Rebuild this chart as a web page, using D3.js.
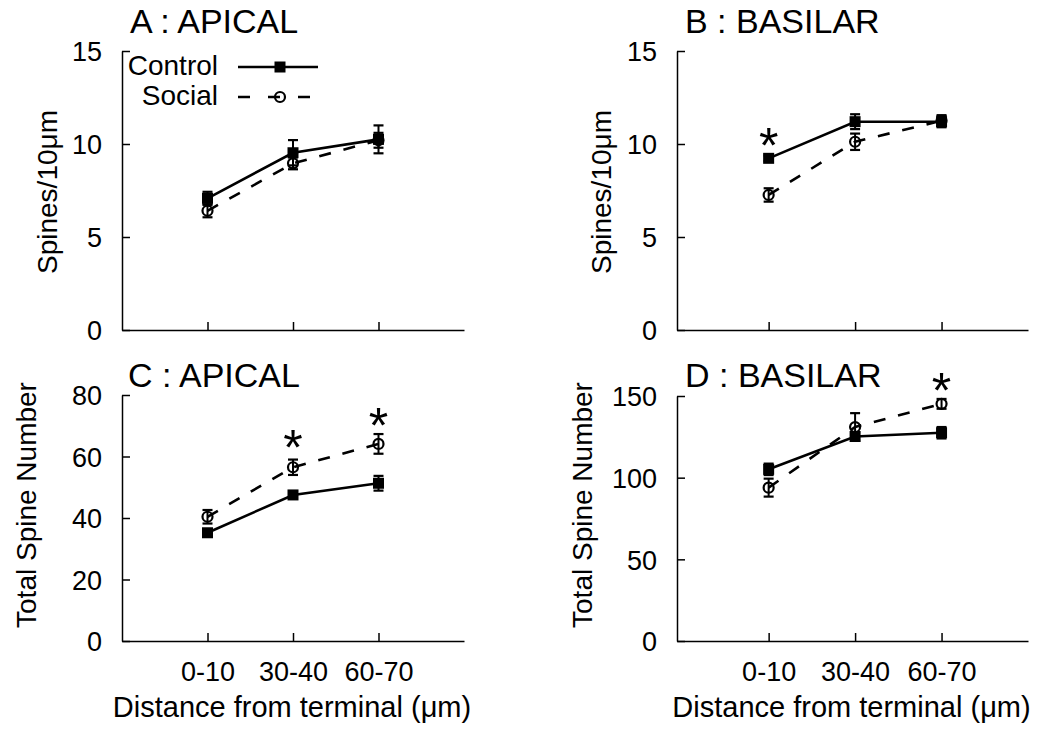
<!DOCTYPE html>
<html>
<head>
<meta charset="utf-8">
<script src="https://cdn.jsdelivr.net/npm/d3@7"></script>
<style>
  body { margin: 0; background: #fff; }
  svg { display: block; }
  text { font-family: "Liberation Sans", Arial, Helvetica, sans-serif; fill: #000; }
</style>
</head>
<body>
<svg id="chart" width="1050" height="741"></svg>
<script>
// ---------------- DATA ----------------
const categories = ["0-10", "30-40", "60-70"];
const seriesNames = ["Control", "Social"];

// Panel A : APICAL, spines / 10 um
const aControl = [7.08, 9.53, 10.25];
const aControlErr = [0.35, 0.68, 0.75];
const aSocial = [6.41, 8.96, 10.2];
const aSocialErr = [0.35, 0.32, 0.4];

// Panel B : BASILAR, spines / 10 um
const bControl = [9.23, 11.2, 11.2];
const bControlErr = [0.15, 0.4, 0.3];
const bSocial = [7.26, 10.12, 11.25];
const bSocialErr = [0.36, 0.44, 0.3];

// Panel C : APICAL, total spine number
const cControl = [35.2, 47.5, 51.3];
const cControlErr = [1.0, 1.0, 2.4];
const cSocial = [40.4, 56.5, 64.1];
const cSocialErr = [2.2, 2.5, 3.2];

// Panel D : BASILAR, total spine number
const dControl = [105.1, 125.2, 127.5];
const dControlErr = [3.5, 2.5, 3.5];
const dSocial = [93.9, 131.0, 145.2];
const dSocialErr = [5.5, 8.5, 3.0];

// significance markers: category index, value where asterisk sits
const bStars = [{ i: 0, v: 10.6 }];
const cStars = [{ i: 1, v: 67 }, { i: 2, v: 74 }];
const dStars = [{ i: 2, v: 161 }];

const yTicksSpines = [0, 5, 10, 15];
const yTicksC = [0, 20, 40, 60, 80];
const yTicksD = [0, 50, 100, 150];

// ---------------- LAYOUT ----------------
const panels = [
  { title: "A : APICAL", titleX: 130, titleY: 33, x0: 122, x1: 464, xMin: 0, yTop: 51, yBot: 330,
    yMax: 15, yTicks: yTicksSpines, yLabel: "Spines/10\u03BCm", yLabelX: 57, yLabelY: 192,
    control: aControl, controlErr: aControlErr, social: aSocial, socialErr: aSocialErr,
    stars: [], xLabels: false, legend: true },
  { title: "B : BASILAR", titleX: 685, titleY: 33, x0: 677, x1: 1028, xMin: -0.06, yTop: 51, yBot: 330,
    yMax: 15, yTicks: yTicksSpines, yLabel: "Spines/10\u03BCm", yLabelX: 611, yLabelY: 192,
    control: bControl, controlErr: bControlErr, social: bSocial, socialErr: bSocialErr,
    stars: bStars, xLabels: false, legend: false },
  { title: "C : APICAL", titleX: 128, titleY: 387, x0: 122, x1: 464, xMin: 0, yTop: 395, yBot: 641,
    yMax: 80, yTicks: yTicksC, yLabel: "Total Spine Number", yLabelX: 36, yLabelY: 505,
    control: cControl, controlErr: cControlErr, social: cSocial, socialErr: cSocialErr,
    stars: cStars, xLabels: true, legend: false },
  { title: "D : BASILAR", titleX: 685, titleY: 387, x0: 677, x1: 1028, xMin: -0.06, yTop: 396, yBot: 641,
    yMax: 150, yTicks: yTicksD, yLabel: "Total Spine Number", yLabelX: 592, yLabelY: 505,
    control: dControl, controlErr: dControlErr, social: dSocial, socialErr: dSocialErr,
    stars: dStars, xLabels: true, legend: false }
];

const svg = d3.select("#chart");
const FS = 27;
const dash = "12,13";

function drawSquare(g, x, y) {
  g.append("rect").attr("x", x - 5.5).attr("y", y - 5.5).attr("width", 11).attr("height", 11)
    .attr("fill", "#000");
}
function drawCircle(g, x, y) {
  g.append("circle").attr("cx", x).attr("cy", y).attr("r", 5)
    .attr("fill", "none").attr("stroke", "#000").attr("stroke-width", 2.2);
}

panels.forEach(p => {
  const g = svg.append("g");
  const x = d3.scaleLinear().domain([p.xMin, 4]).range([p.x0, p.x1]);
  const y = d3.scaleLinear().domain([0, p.yMax]).range([p.yBot, p.yTop]);

  // title
  g.append("text").attr("x", p.titleX).attr("y", p.titleY)
    .attr("font-size", 34).text(p.title);

  // y axis
  const yAxis = d3.axisLeft(y).tickValues(p.yTicks).tickSizeInner(-8).tickSizeOuter(0)
    .tickPadding(20).tickFormat(d3.format("d"));
  const ya = g.append("g").attr("transform", `translate(${p.x0},0)`).call(yAxis);
  ya.selectAll("text").attr("font-size", FS).style("font-family", "Liberation Sans, Arial, sans-serif");
  ya.select(".domain").attr("stroke-width", 1.5);
  ya.selectAll(".tick line").attr("stroke-width", 1.5);
  ya.selectAll(".tick text").attr("dy", "0.36em");

  // x axis
  const xAxis = d3.axisBottom(x).tickValues([1, 2, 3]).tickSizeInner(-8).tickSizeOuter(0)
    .tickPadding(21).tickFormat(d => p.xLabels ? categories[d - 1] : "");
  const xa = g.append("g").attr("transform", `translate(0,${p.yBot})`).call(xAxis);
  xa.selectAll("text").attr("font-size", FS).style("font-family", "Liberation Sans, Arial, sans-serif");
  xa.select(".domain").attr("stroke-width", 1.5);
  xa.selectAll(".tick line").attr("stroke-width", 1.5);

  // y label
  g.append("text").attr("transform", `translate(${p.yLabelX},${p.yLabelY}) rotate(-90)`)
    .attr("text-anchor", "middle").attr("font-size", 28).text(p.yLabel);

  // x label
  if (p.xLabels) {
    g.append("text").attr("x", (p.x0 + p.x1) / 2 - 1).attr("y", 717)
      .attr("text-anchor", "middle").attr("font-size", 29).text("Distance from terminal (\u03BCm)");
  }

  const idx = [0, 1, 2];
  // error bars
  function errBars(vals, errs) {
    idx.forEach(i => {
      const cx = x(i + 1), lo = y(vals[i] - errs[i]), hi = y(vals[i] + errs[i]);
      g.append("line").attr("x1", cx).attr("x2", cx).attr("y1", lo).attr("y2", hi)
        .attr("stroke", "#000").attr("stroke-width", 2);
      [lo, hi].forEach(yy => g.append("line").attr("x1", cx - 5).attr("x2", cx + 5)
        .attr("y1", yy).attr("y2", yy).attr("stroke", "#000").attr("stroke-width", 2.2));
    });
  }
  errBars(p.control, p.controlErr);
  errBars(p.social, p.socialErr);

  const line = d3.line().x((d, i) => x(i + 1)).y(d => y(d));
  g.append("path").datum(p.social).attr("d", line).attr("fill", "none")
    .attr("stroke", "#000").attr("stroke-width", 2.6).attr("stroke-dasharray", dash);
  g.append("path").datum(p.control).attr("d", line).attr("fill", "none")
    .attr("stroke", "#000").attr("stroke-width", 2.6);

  p.social.forEach((v, i) => drawCircle(g, x(i + 1), y(v)));
  p.control.forEach((v, i) => drawSquare(g, x(i + 1), y(v)));

  // significance asterisks
  p.stars.forEach(s => {
    g.append("text").attr("x", x(s.i + 1)).attr("y", y(s.v)).attr("dy", "0.6em")
      .attr("text-anchor", "middle").attr("font-size", 50).text("*");
  });

  // legend
  if (p.legend) {
    const lg = g.append("g");
    const lx0 = 238, lx1 = 318, lxm = 280;
    lg.append("text").attr("x", 218).attr("y", 75).attr("text-anchor", "end")
      .attr("font-size", 28).text(seriesNames[0]);
    lg.append("line").attr("x1", lx0).attr("x2", lx1).attr("y1", 67).attr("y2", 67)
      .attr("stroke", "#000").attr("stroke-width", 2.6);
    drawSquare(lg, lxm, 67);
    lg.append("text").attr("x", 218).attr("y", 105).attr("text-anchor", "end")
      .attr("font-size", 28).text(seriesNames[1]);
    lg.append("line").attr("x1", lx0).attr("x2", lx1).attr("y1", 97).attr("y2", 97)
      .attr("stroke", "#000").attr("stroke-width", 2.6).attr("stroke-dasharray", "12,18");
    drawCircle(lg, lxm, 97);
  }
});
</script>
</body>
</html>
